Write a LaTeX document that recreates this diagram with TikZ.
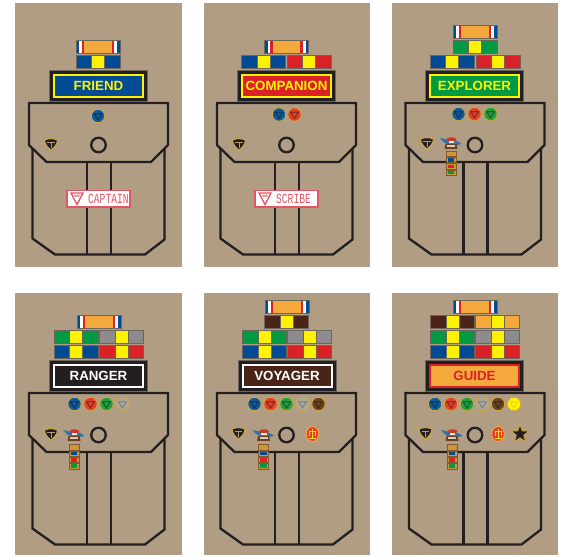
\documentclass[tikz,border=0pt]{standalone}
\usepackage{fontspec}
\setmainfont{Liberation Sans}
\newfontfamily\tagfont{Liberation Mono}
\usetikzlibrary{shapes.geometric}
\definecolor{khaki}{HTML}{B09D84}
\definecolor{ink}{HTML}{231F20}
\definecolor{rbblue}{HTML}{004B93}
\definecolor{rbyellow}{HTML}{FFF200}
\definecolor{rborange}{HTML}{F4A93C}
\definecolor{rbgreen}{HTML}{009A44}
\definecolor{rbred}{HTML}{DA2128}
\definecolor{rbgray}{HTML}{8C8C8C}
\definecolor{rbbrown}{HTML}{4B2418}
\definecolor{rbedge}{HTML}{6E665A}
\definecolor{pinblue}{HTML}{0F5A9C}
\definecolor{pinred}{HTML}{E2402A}
\definecolor{pingreen}{HTML}{22A040}
\definecolor{pingray}{HTML}{ACA79B}
\definecolor{pinbrown}{HTML}{6B4420}
\definecolor{pinyellow}{HTML}{FFF200}
\definecolor{gold}{HTML}{D0A93C}
\definecolor{tagred}{HTML}{E25563}
\definecolor{ladtan}{HTML}{C9983C}
\tikzset{
  panel/.style={fill=khaki,draw=none},
  garment/.style={draw=ink,line width=2.3pt,line join=miter},
  ribbonedge/.style={draw=rbedge,line width=.8pt},
  labeltext/.style={font=\bfseries\fontsize{13.3}{13.3}\selectfont,inner sep=0pt},
  tagtext/.style={font=\tagfont\fontsize{14}{14}\selectfont,text=tagred,inner sep=0pt,xscale=.69,transform shape,anchor=west},
  ringnode/.style={circle,draw=ink,line width=2.3pt,minimum size=14.5pt,inner sep=0pt},
}
\newcommand{\rib}[3]{%
  \fill[#3] (#1,#2) rectangle ++(44,13);
  \fill[rbyellow] ({#1+15.5},#2) rectangle ++(13,13);
  \draw[rbedge,line width=.5pt] ({#1+15.5},#2) -- ++(0,13) ({#1+28.5},#2) -- ++(0,13);
  \draw[ribbonedge] (#1,#2) rectangle ++(44,13);}
\newcommand{\toprib}[2]{%
  \fill[rbblue] (#1,#2) rectangle ++(44,13);
  \fill[white] ({#1+3},#2) rectangle ++(38,13);
  \fill[rbred] ({#1+5.7},#2) rectangle ++(32.6,13);
  \fill[rborange] ({#1+8.4},#2) rectangle ++(27.2,13);
  \draw[ribbonedge] (#1,#2) rectangle ++(44,13);}
\newcommand{\shirt}[2]{%
  \begin{scope}[shift={(#1,#2)}]
  \draw[garment] (32.5,148) -- (32.5,238.5) -- (55,254.5) -- (145,254.5) -- (164.5,239.5) -- (164.5,148);
  \draw[garment] (87,162) -- (87,254.5) (111,162) -- (111,254.5);
  \draw[garment] (29,103) -- (168,103) -- (168,145) -- (151,162) -- (46.5,162) -- (29,145) -- cycle;
  \node[ringnode] at (98.5,145) {};
  \end{scope}}
\newcommand{\plate}[6]{%
  \fill[ink] ({#1-49},#2) rectangle ++(98,31);
  \draw[rbedge,line width=.5pt] ({#1-49},#2) rectangle ++(98,31);
  \fill[#4] ({#1-45.5},{#2+3.5}) rectangle ++(91,24);
  \fill[#3] ({#1-43.5},{#2+5.5}) rectangle ++(87,20);
  \node[labeltext,text=#5] at (#1,{#2+16.3}) {#6};}
\newcommand{\pin}[4][35]{%
  \fill[#4] (#2,#3) circle (6.7);
  \draw[gold,line width=.8pt] (#2,#3) circle (6.7);
  \draw[black!#1!#4,line width=1.2pt,line join=round] ({#2-4},{#3-2.3}) -- ({#2+4},{#3-2.3}) -- (#2,{#3+4}) -- cycle;}
\newcommand{\shield}[2]{%
  \begin{scope}[shift={(#1,#2)}]
  \draw[fill=ink,draw=gold,line width=1pt] (-6.5,-4) .. controls (-2,-5.8) and (2,-5.8) .. (6.5,-4) .. controls (6.5,0) and (3,4) .. (0,6) .. controls (-3,4) and (-6.5,0) .. (-6.5,-4) -- cycle;
  \draw[khaki,line width=.8pt] (-3.8,-2) -- (3.8,-2) (0,-2) -- (0,4);
  \end{scope}}
\newcommand{\wings}[2]{%
  \begin{scope}[shift={(#1,#2)}]
  \fill[pinblue!85!white] (-11,-5) .. controls (-6,-4) and (-3,-3.2) .. (0,-3) .. controls (4,-3) and (8,-1.5) .. (10.5,1) .. controls (6,2.2) and (4,2.2) .. (0,2.4) .. controls (-4,2) and (-8,-1) .. (-11,-5) -- cycle;
  \fill[pinred!90!black] (0.5,-3.6) ellipse (5 and 2.2);
  \fill[white!80!khaki] (-2.5,-1.6) rectangle (3,0.4);
  \fill[rbbrown!75!ladtan] (-5.5,1.2) -- (5.5,1.2) -- (6.5,5.8) -- (-6.5,5.8) -- cycle;
  \fill[khaki!50!white] (-4,1.8) rectangle (4,3.8);
  \end{scope}}
\newcommand{\ladder}[2]{%
  \begin{scope}[shift={(#1,#2)}]
  \foreach \yy/\cc in {0/ladtan,6.3/rbblue,12.6/rbred,18.9/rbgreen}{
    \draw[fill=ladtan,draw=rbbrown!55!ladtan,line width=.6pt] (-5,\yy) rectangle (5,\yy+5.4);
    \fill[\cc] (-3.3,\yy+1) rectangle (3.3,\yy+4.4);
  }
  \end{scope}}
\newcommand{\emblem}[2]{%
  \begin{scope}[shift={(#1,#2)}]
  \draw[fill=pinred,draw=rborange,line width=.9pt] (0,0) ellipse (6.3 and 7.5);
  \draw[rbyellow!70!rborange,line width=.9pt] (-3,-3) -- (3,-3) (0,-5.5) -- (0,4.5) (-3,-3) -- (-3,2) (3,-3) -- (3,2) (-3.5,4.5) -- (3.5,4.5);
  \end{scope}}
\newcommand{\tagplate}[3]{%
  \begin{scope}[shift={(#1,0)}]
  \draw[fill=white,draw=tagred,line width=1.1pt] (0,190.5) rectangle (63,207);
  \draw[tagred,line width=1.3pt] (4,193) -- (16,193) -- (10,204.5) -- cycle;
  \fill[tagred!55!white] (6.5,194.5) -- (13.5,194.5) -- (12.5,196.8) -- (7.5,196.8) -- cycle;
  \node[tagtext] (#3) at (#2,199) {#3};
  \end{scope}}
\begin{document}
\begin{tikzpicture}[x=1pt,y=-1pt]
\useasboundingbox (0,0) rectangle (563,555);
\fill[white] (0,0) rectangle (563,555);
\fill[panel] (15,3) rectangle (181.5,267);
\fill[panel] (204,3) rectangle (369.5,267);
\fill[panel] (392,3) rectangle (557.5,267);
\fill[panel] (15,293) rectangle (181.5,555);
\fill[panel] (204,293) rectangle (369.5,555);
\fill[panel] (392,293) rectangle (557.5,555);
\shirt{0}{0}
\shirt{188}{0}
\shirt{376.5}{0}
\shirt{0}{290}
\shirt{188}{290}
\shirt{376.5}{290}
% FRIEND
\toprib{76}{40}
\rib{76}{55}{rbblue}
\plate{98.5}{70}{rbblue}{rbyellow}{rbyellow}{FRIEND}
\pin{98}{116}{pinblue}
\shield{51}{144}
\tagplate{67}{21}{CAPTAIN}
% COMPANION
\toprib{264.5}{40}
\rib{241.5}{55}{rbblue}
\rib{287}{55}{rbred}
\plate{286.5}{70}{rbred}{rbyellow}{rbyellow}{COMPANION}
\pin{279}{114.5}{pinblue}
\pin{294.5}{114.5}{pinred}
\shield{239}{144}
\tagplate{255}{21}{SCRIBE}
% EXPLORER
\toprib{453}{25}
\rib{453}{40}{rbgreen}
\rib{430}{55}{rbblue}
\rib{476}{55}{rbred}
\plate{474.5}{70}{rbgreen}{rbyellow}{rbyellow}{EXPLORER}
\pin{458.5}{114}{pinblue}
\pin{474.5}{114}{pinred}
\pin{490.5}{114}{pingreen}
\shield{427}{143}
\ladder{451}{151}
\wings{451}{143}
% RANGER
\toprib{77}{315}
\rib{54}{330}{rbgreen}
\rib{99.5}{330}{rbgray}
\rib{54}{345}{rbblue}
\rib{99.5}{345}{rbred}
\plate{98.5}{360}{ink}{white}{white}{RANGER}
\pin{74.5}{404}{pinblue}
\pin{90.5}{404}{pinred}
\pin{106.5}{404}{pingreen}
\pin[20]{122.5}{404}{pingray}
\shield{51}{434}
\ladder{74}{444.5}
\wings{74}{435}
% VOYAGER
\toprib{265}{300}
\rib{264.5}{315}{rbbrown}
\rib{242.5}{330}{rbgreen}
\rib{287.5}{330}{rbgray}
\rib{242.5}{345}{rbblue}
\rib{287.5}{345}{rbred}
\plate{287}{360}{rbbrown}{white}{white}{VOYAGER}
\pin{254.5}{404}{pinblue}
\pin{270.5}{404}{pinred}
\pin{286.5}{404}{pingreen}
\pin[20]{302.5}{404}{pingray}
\pin{318.5}{404}{pinbrown}
\shield{238.5}{433}
\ladder{263.5}{444.5}
\wings{263.5}{435}
\emblem{312.5}{434}
% GUIDE
\toprib{453}{300}
\rib{430.5}{315}{rbbrown}
\rib{475.5}{315}{rborange}
\rib{430.5}{330}{rbgreen}
\rib{475.5}{330}{rbgray}
\rib{430.5}{345}{rbblue}
\rib{475.5}{345}{rbred}
\plate{474.5}{360}{rborange}{rbred}{rbred}{GUIDE}
\pin{435}{404}{pinblue}
\pin{451}{404}{pinred}
\pin{467}{404}{pingreen}
\pin[20]{482.5}{404}{pingray}
\pin{498}{404}{pinbrown}
\pin[8]{514}{404}{pinyellow}
\shield{425.5}{433}
\ladder{452}{444.5}
\wings{452}{435}
\emblem{498}{434}
\node[star,star points=5,star point ratio=2.4,minimum size=19pt,inner sep=0pt,fill=ink,draw=gold,line width=.9pt] (guidestar) at (520,434) {};
\end{tikzpicture}
\end{document}
